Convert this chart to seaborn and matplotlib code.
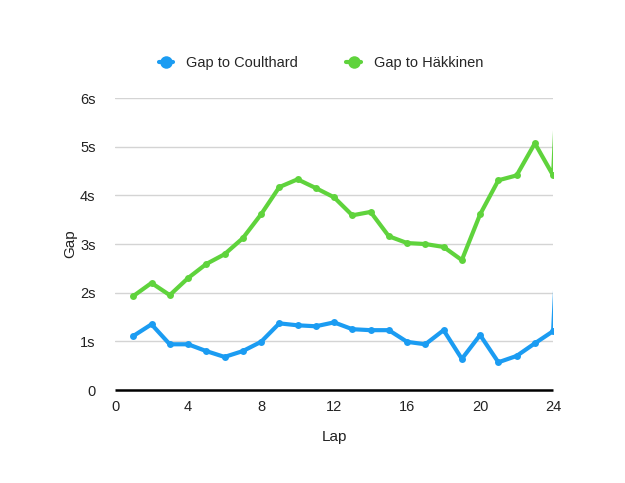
import pandas as pd
import matplotlib.pyplot as plt
import seaborn as sns
from matplotlib.ticker import FixedLocator

# lap 25 is outside the visible range; only its steep start shows at the right edge
laps = list(range(1, 26))
gap_coulthard = [1.11, 1.35, 0.94, 0.94, 0.80, 0.68, 0.80, 0.99, 1.37, 1.33,
                 1.31, 1.39, 1.25, 1.23, 1.23, 0.99, 0.94, 1.23, 0.64, 1.13,
                 0.57, 0.70, 0.96, 1.21, 9.0]
gap_hakkinen = [1.93, 2.20, 1.95, 2.30, 2.59, 2.79, 3.12, 3.61, 4.17, 4.33,
                4.15, 3.96, 3.59, 3.66, 3.16, 3.02, 3.00, 2.94, 2.67, 3.61,
                4.31, 4.41, 5.07, 4.41, 13.0]
series_names = ["Gap to Coulthard", "Gap to Häkkinen"]
colors = ["#1b9cf2", "#5fd33c"]
y_ticks = [0, 1, 2, 3, 4, 5, 6]
y_tick_labels = ["0", "1s", "2s", "3s", "4s", "5s", "6s"]
x_ticks = [0, 4, 8, 12, 16, 20, 24]

df = pd.DataFrame({
    "Lap": laps * 2,
    "Gap": gap_coulthard + gap_hakkinen,
    "series": [series_names[0]] * len(laps) + [series_names[1]] * len(laps),
})

sns.set_theme(style="white")
plt.rcParams["font.family"] = ["Liberation Sans", "DejaVu Sans"]

fig = plt.figure(figsize=(6.25, 4.83), dpi=100)
ax = fig.add_axes([0.184, 0.1925, 0.701, 0.6045])

sns.lineplot(data=df, x="Lap", y="Gap", hue="series", palette=colors,
             marker="o", markersize=5, markeredgewidth=0, linewidth=3,
             ax=ax, legend=True)

ax.set_xlim(0, 24)
ax.set_ylim(0, 6)
ax.yaxis.set_major_locator(FixedLocator(y_ticks))
ax.set_yticklabels(y_tick_labels)
ax.set_xticks(x_ticks)
ax.grid(axis="y", color="#d4d4d4", linewidth=1)
ax.set_axisbelow(True)
for side in ["left", "right", "top"]:
    ax.spines[side].set_visible(False)
ax.spines["bottom"].set_color("black")
ax.spines["bottom"].set_linewidth(1.8)
ax.spines["bottom"].set_capstyle("butt")
ax.spines["bottom"].set_zorder(5)
ax.tick_params(axis="both", length=0, labelsize=10.5, colors="#222222")
ax.tick_params(axis="y", pad=14)
ax.tick_params(axis="x", pad=7)
ax.set_xlabel("Lap", fontsize=11, color="#222222", labelpad=12)
ax.set_ylabel("Gap", fontsize=11, color="#222222", labelpad=2)

handles, labels = ax.get_legend_handles_labels()
leg = ax.legend(handles, labels, loc="center", bbox_to_anchor=(0.47, 1.12),
                ncol=2, frameon=False, fontsize=10.5, handlelength=1.0,
                columnspacing=3.3, handletextpad=0.9)
for h in leg.legend_handles:
    h.set_markersize(9)

fig.savefig("out.png", dpi=100)
